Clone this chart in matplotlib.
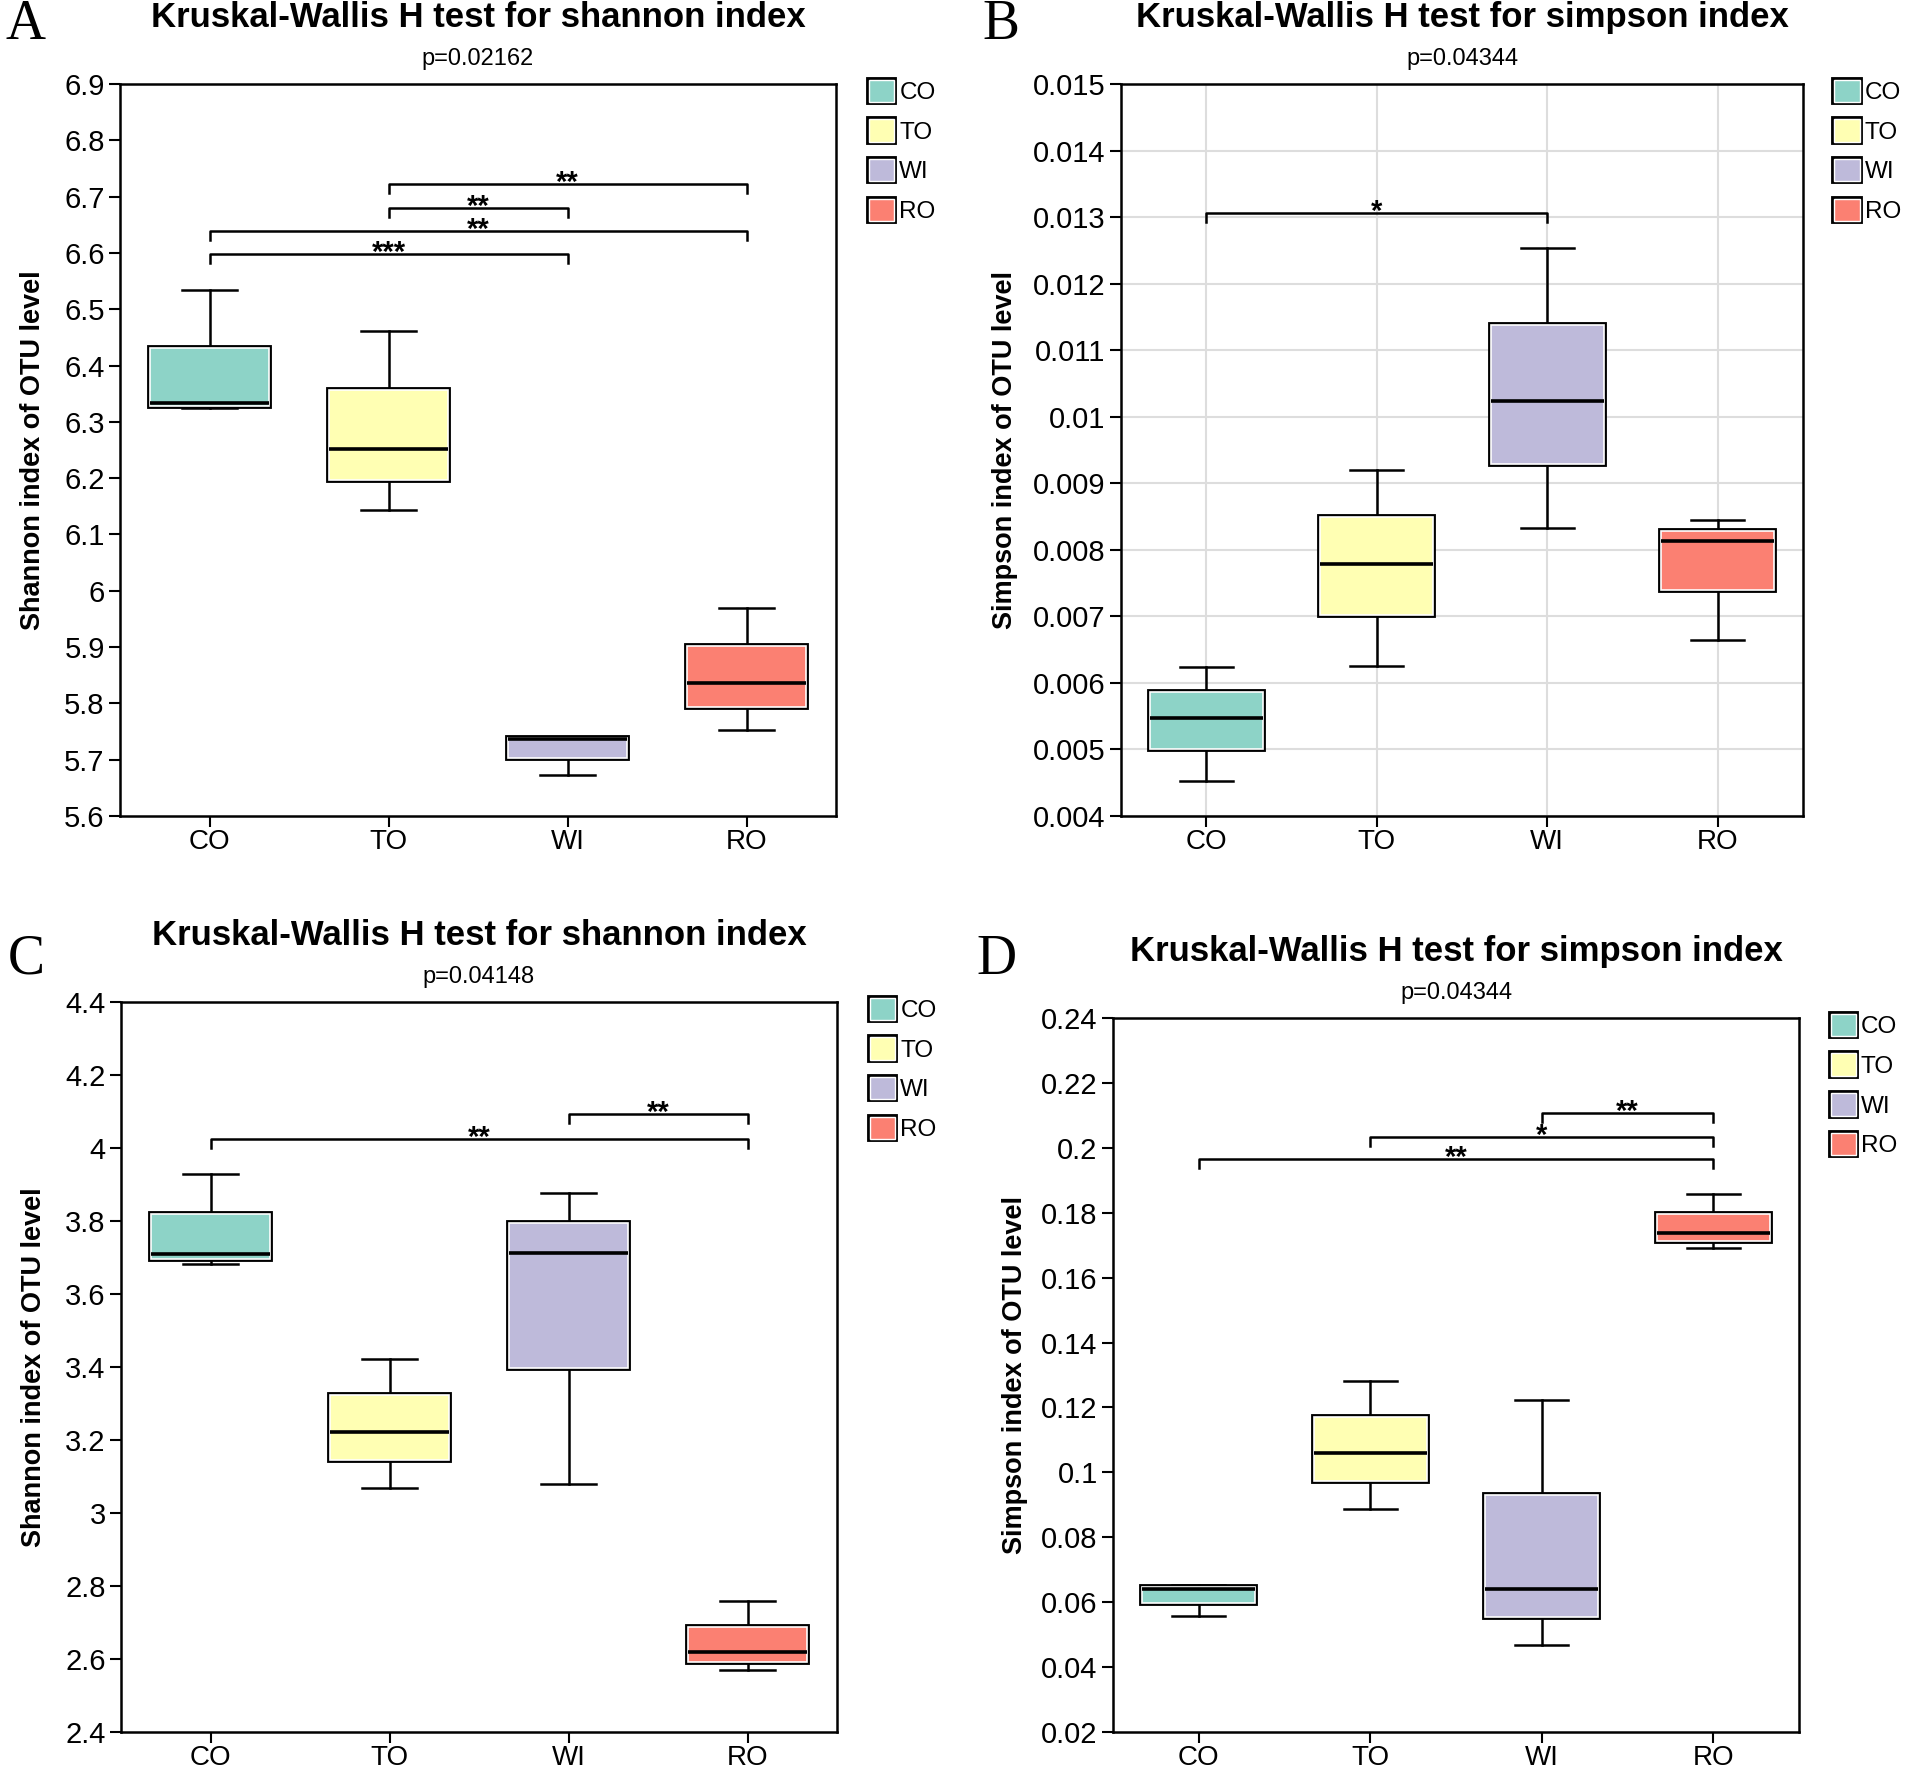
import matplotlib
matplotlib.use('Agg')
import matplotlib.pyplot as plt
import matplotlib.patheffects as pe
from matplotlib.patches import Patch
from matplotlib.ticker import FuncFormatter
import numpy as np

plt.rcParams['font.family'] = ['Liberation Sans', 'DejaVu Sans']

groups = ['CO', 'TO', 'WI', 'RO']
colors = ['#8DD3C7', '#FFFFB3', '#BEBADA', '#FB8072']

# A: shannon (whisker low, q1, median, q3, whisker high)
a_low = [6.324, 6.143, 5.672, 5.752]
a_q1 = [6.328, 6.197, 5.703, 5.793]
a_med = [6.334, 6.251, 5.736, 5.836]
a_q3 = [6.432, 6.357, 5.739, 5.902]
a_high = [6.534, 6.462, 5.741, 5.969]
a_sig = [(1, 3, 6.722, '**'), (1, 2, 6.679, '**'), (0, 3, 6.639, '**'), (0, 2, 6.598, '***')]

# B: simpson
b_low = [0.00452, 0.00625, 0.00833, 0.00665]
b_q1 = [0.00500, 0.00702, 0.00929, 0.00740]
b_med = [0.00548, 0.00778, 0.01024, 0.00814]
b_q3 = [0.00586, 0.00849, 0.01138, 0.00829]
b_high = [0.00624, 0.00920, 0.01254, 0.00845]
b_sig = [(0, 2, 0.01306, '*')]

# C: shannon
c_low = [3.681, 3.069, 3.079, 2.571]
c_q1 = [3.695, 3.145, 3.396, 2.593]
c_med = [3.710, 3.221, 3.713, 2.618]
c_q3 = [3.820, 3.322, 3.795, 2.688]
c_high = [3.929, 3.421, 3.878, 2.758]
c_sig = [(2, 3, 4.092, '**'), (0, 3, 4.025, '**')]

# D: simpson
d_low = [0.0556, 0.0888, 0.0469, 0.1690]
d_q1 = [0.0599, 0.0974, 0.0554, 0.1713]
d_med = [0.0640, 0.1060, 0.0640, 0.1739]
d_q3 = [0.0647, 0.1171, 0.0931, 0.1796]
d_high = [0.0654, 0.1282, 0.1224, 0.1857]
d_sig = [(2, 3, 0.2106, '**'), (1, 3, 0.2032, '*'), (0, 3, 0.1965, '**')]

box_fx = [pe.Stroke(linewidth=4.2, foreground='black'), pe.Normal()]


def draw_panel(ax, low, q1, med, q3, high, sig, ylim, step, title, ptxt, ylabel,
               ylab_x, grid=False):
    stats = []
    for i in range(4):
        stats.append(dict(whislo=low[i], q1=q1[i], med=med[i], q3=q3[i],
                          whishi=high[i], fliers=[]))
    bp = ax.bxp(stats, positions=range(4), widths=0.66, capwidths=0.31,
                patch_artist=True, showfliers=False,
                boxprops=dict(linewidth=1.2, edgecolor='white'),
                medianprops=dict(color='black', linewidth=2.6),
                whiskerprops=dict(color='black', linewidth=1.8),
                capprops=dict(color='black', linewidth=1.8))
    for patch, c in zip(bp['boxes'], colors):
        patch.set_facecolor(c)
        patch.set_path_effects(box_fx)
        patch.set_zorder(3)
    for ln in bp['whiskers'] + bp['caps']:
        ln.set_zorder(2)
    for ln in bp['medians']:
        ln.set_zorder(4)

    rng = ylim[1] - ylim[0]
    drop = 0.012 * rng
    for x1, x2, y, s in sig:
        ax.plot([x1, x1, x2, x2], [y - drop, y, y, y - drop], color='black',
                linewidth=1.8, zorder=5)
        ax.annotate(s, xy=((x1 + x2) / 2, y), xytext=(0, -5),
                    textcoords='offset points', ha='center', va='baseline',
                    fontsize=21, fontweight='bold', zorder=6)

    ax.set_xlim(-0.5, 3.5)
    ax.set_ylim(*ylim)
    ticks = np.round(np.arange(ylim[0], ylim[1] + step / 2, step), 6)
    ax.set_yticks(ticks)
    ax.yaxis.set_major_formatter(FuncFormatter(lambda v, p: '%g' % round(v, 6)))
    ax.set_xticks(range(4))
    ax.set_xticklabels(groups)
    ax.tick_params(axis='both', direction='out', length=8, width=1.5)
    ax.tick_params(axis='y', labelsize=21, pad=3)
    ax.tick_params(axis='x', labelsize=20, pad=1.5)
    for sp in ax.spines.values():
        sp.set_linewidth(1.8)
    if grid:
        ax.grid(True, color='#DDDDDD', linewidth=1.5, zorder=0)
        ax.set_axisbelow(True)

    ax.set_ylabel(ylabel, fontsize=19.5, fontweight='bold', va='center')
    ax.yaxis.set_label_coords(ylab_x, 0.5)

    ax.annotate(title, xy=(0.5, 1), xycoords='axes fraction', xytext=(0, 48),
                textcoords='offset points', ha='center', va='center',
                fontsize=25, fontweight='bold')
    ax.annotate(ptxt, xy=(0.5, 1), xycoords='axes fraction', xytext=(0, 18),
                textcoords='offset points', ha='center', va='center',
                fontsize=17)

    handles = [Patch(facecolor=c, edgecolor='white', linewidth=1.0,
                     path_effects=box_fx, label=g) for g, c in zip(groups, colors)]
    ax.legend(handles=handles, loc='upper left', bbox_to_anchor=(1.046, 1.006),
              frameon=False, fontsize=17.5, handlelength=1.05, handleheight=1.05,
              handletextpad=0.2, labelspacing=0.62, borderpad=0,
              borderaxespad=0)


W, H = 1905, 1775
fig = plt.figure(figsize=(W / 100, H / 100), dpi=100)


def add_axes(l, t, r, b):
    return fig.add_axes([l / W, 1 - b / H, (r - l) / W, (b - t) / H])


axA = add_axes(120, 84, 836, 816)
axB = add_axes(1121, 84, 1803, 816)
axC = add_axes(121, 1002, 837, 1732)
axD = add_axes(1113, 1018, 1799, 1732)

draw_panel(axA, a_low, a_q1, a_med, a_q3, a_high, a_sig, (5.6, 6.9), 0.1,
           'Kruskal-Wallis H test for shannon index', 'p=0.02162',
           'Shannon index of OTU level', -0.122)
draw_panel(axB, b_low, b_q1, b_med, b_q3, b_high, b_sig, (0.004, 0.015), 0.001,
           'Kruskal-Wallis H test for simpson index', 'p=0.04344',
           'Simpson index of OTU level', -0.170, grid=True)
draw_panel(axC, c_low, c_q1, c_med, c_q3, c_high, c_sig, (2.4, 4.4), 0.2,
           'Kruskal-Wallis H test for shannon index', 'p=0.04148',
           'Shannon index of OTU level', -0.122)
draw_panel(axD, d_low, d_q1, d_med, d_q3, d_high, d_sig, (0.02, 0.24), 0.02,
           'Kruskal-Wallis H test for simpson index', 'p=0.04344',
           'Simpson index of OTU level', -0.143)

for letter, px, py in [('A', 26, 25), ('B', 1001, 25), ('C', 26, 960), ('D', 997, 960)]:
    fig.text(px / W, 1 - py / H, letter, ha='center', va='center', fontsize=40,
             family=['Liberation Serif', 'DejaVu Serif'])

fig.savefig('out.png', dpi=100)
